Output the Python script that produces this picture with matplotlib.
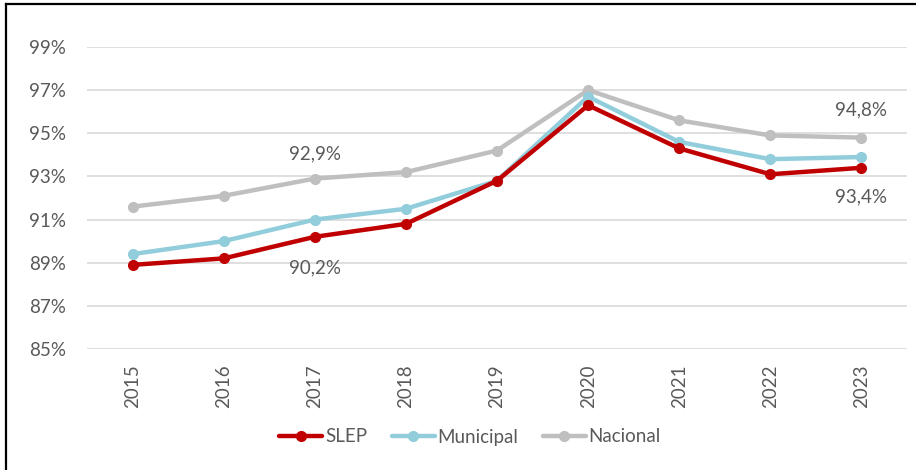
import matplotlib
matplotlib.use("Agg")
import matplotlib.pyplot as plt
from matplotlib.lines import Line2D
from matplotlib.ticker import FuncFormatter

years = ["2015", "2016", "2017", "2018", "2019", "2020", "2021", "2022", "2023"]
slep = [88.9, 89.2, 90.2, 90.8, 92.8, 96.3, 94.3, 93.1, 93.4]
municipal = [89.4, 90.0, 91.0, 91.5, 92.8, 96.7, 94.6, 93.8, 93.9]
nacional = [91.6, 92.1, 92.9, 93.2, 94.2, 97.0, 95.6, 94.9, 94.8]
yticks = [85, 87, 89, 91, 93, 95, 97, 99]

plt.rcParams['font.family'] = ['Lato', 'DejaVu Sans']
TXT = '#595959'
FS = 13.5
W, H = 916, 470
fig = plt.figure(figsize=(W / 100, H / 100), dpi=100)
ax = fig.add_axes([87 / W, 1 - 349 / H, (907 - 87) / W, (349 - 47) / H])

x = list(range(len(years)))
series = [("Nacional", nacional, '#BFBFBF'), ("Municipal", municipal, '#92CDDC'), ("SLEP", slep, '#C00000')]
handles = {}
for name, vals, col in series:
    h, = ax.plot(x, vals, color=col, lw=3.2, marker='o', ms=7, label=name, solid_capstyle='round')
    handles[name] = h

ax.set_xlim(-0.5, len(years) - 0.5)
ax.set_ylim(yticks[0], yticks[-1])
ax.set_yticks(yticks)
ax.yaxis.set_major_formatter(FuncFormatter(lambda v, p: f"{v:.0f}%"))
ax.set_xticks(x)
ax.set_xticklabels(years, rotation=90)
ax.grid(axis='y', color='#D9D9D9', lw=1.2)
ax.set_axisbelow(True)
for s in ax.spines.values():
    s.set_visible(False)
ax.tick_params(axis='both', length=0, colors=TXT, labelsize=FS)
ax.tick_params(axis='y', pad=15)
ax.tick_params(axis='x', pad=11)

def fmt(v):
    return f"{v:.1f}%".replace('.', ',')

ax.annotate(fmt(nacional[2]), (2, nacional[2]), xytext=(0, 18), textcoords='offset points', ha='center', va='center', color=TXT, fontsize=FS)
ax.annotate(fmt(slep[2]), (2, slep[2]), xytext=(0, -22), textcoords='offset points', ha='center', va='center', color=TXT, fontsize=FS)
ax.annotate(fmt(nacional[8]), (8, nacional[8]), xytext=(0, 20), textcoords='offset points', ha='center', va='center', color=TXT, fontsize=FS)
ax.annotate(fmt(slep[8]), (8, slep[8]), xytext=(0, -21), textcoords='offset points', ha='center', va='center', color=TXT, fontsize=FS)

leg = fig.legend([handles["SLEP"], handles["Municipal"], handles["Nacional"]], ["SLEP", "Municipal", "Nacional"],
                 loc='center', bbox_to_anchor=(470 / W, 1 - 437 / H), ncol=3, frameon=False,
                 handlelength=2.3, handletextpad=0.15, columnspacing=1.3, fontsize=FS)
for t in leg.get_texts():
    t.set_color(TXT)

fig.add_artist(Line2D([5.5 / W, 1], [1 - 3.5 / H, 1 - 3.5 / H], transform=fig.transFigure, color='black', lw=1.6))
fig.add_artist(Line2D([5.5 / W, 5.5 / W], [0, 1 - 3.5 / H], transform=fig.transFigure, color='black', lw=1.6))

fig.savefig("out.png", dpi=100)
